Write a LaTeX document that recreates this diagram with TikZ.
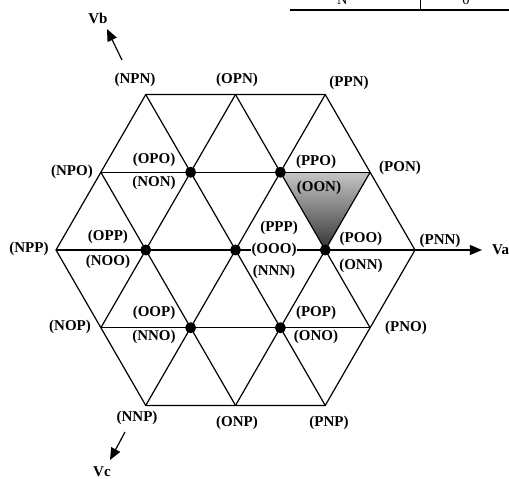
\documentclass[tikz,border=0pt]{standalone}
\usepackage{fontspec}
\setmainfont{Liberation Serif}
\usetikzlibrary{shapes,arrows.meta,positioning}

\begin{document}
\begin{tikzpicture}
	[x=89.75pt, y=89.75pt,
		gridline/.style={line width=1.2pt, line join=miter},
		vecdot/.style={circle, fill=black, inner sep=0pt, minimum size=11pt},
		statelabel/.style={inner sep=0pt, font=\bfseries\fontsize{15}{17}\selectfont},
		axisarrow/.style={line width=1.2pt, -{Triangle[length=12pt,width=10pt]}},
		tabletext/.style={inner sep=0pt, anchor=base, font=\fontsize{14.5}{16}\selectfont},
		shadedsector/.style={top color=gray!45, bottom color=black!80, draw=none},
	]
	\useasboundingbox (-2.624,-2.5515) rectangle (3.0474,2.7855);

	\coordinate (npn) at (-1,1.732);
	\coordinate (opn) at (0,1.732);
	\coordinate (ppn) at (1,1.732);
	\coordinate (npo) at (-1.5,0.866);
	\coordinate (opo) at (-0.5,0.866);
	\coordinate (ppo) at (0.5,0.866);
	\coordinate (pon) at (1.5,0.866);
	\coordinate (npp) at (-2,0);
	\coordinate (opp) at (-1,0);
	\coordinate (ooo) at (0,0);
	\coordinate (poo) at (1,0);
	\coordinate (pnn) at (2,0);
	\coordinate (nop) at (-1.5,-0.866);
	\coordinate (oop) at (-0.5,-0.866);
	\coordinate (pop) at (0.5,-0.866);
	\coordinate (pno) at (1.5,-0.866);
	\coordinate (nnp) at (-1,-1.732);
	\coordinate (onp) at (0,-1.732);
	\coordinate (pnp) at (1,-1.732);

	\fill[shadedsector] (ppo) -- (pon) -- (poo) -- cycle;

	\draw[gridline] (pnn) -- (ppn) -- (npn) -- (npp) -- (nnp) -- (pnp) -- cycle;
	\draw[gridline] (npo) -- (pon) (npp) -- (pnn) (nop) -- (pno);
	\draw[gridline] (nop) -- (opn) (nnp) -- (ppn) (onp) -- (pon);
	\draw[gridline] (pno) -- (opn) (pnp) -- (npn) (onp) -- (npo);

	\foreach \v in {opo,ppo,opp,ooo,poo,oop,pop}
		\node[vecdot] (dot\v) at (\v) {};

	\coordinate (vatip) at (2.746,0);
	\draw[axisarrow] (pnn) -- (vatip);
	\node[statelabel, right=10pt of vatip] (va) {Va};

	\coordinate (vbtail) at (-1.265,2.117);
	\coordinate (vbtip) at (-1.432,2.462);
	\draw[axisarrow] (vbtail) -- (vbtip);
	\node[statelabel] (vb) at (-1.532,2.585) {Vb};

	\coordinate (vctail) at (-1.231,-2.028);
	\coordinate (vctip) at (-1.398,-2.340);
	\draw[axisarrow] (vctail) -- (vctip);
	\node[statelabel] (vc) at (-1.488,-2.474) {Vc};

	\node[statelabel] (lnpn) at (-1.120,1.894) {(NPN)};
	\node[statelabel] (lopn) at (0.017,1.894) {(OPN)};
	\node[statelabel] (lppn) at (1.265,1.861) {(PPN)};
	\node[statelabel] (lnpo) at (-1.822,0.869) {(NPO)};
	\node[statelabel] (lopo) at (-0.908,1.003) {(OPO)};
	\node[statelabel] (lnon) at (-0.908,0.747) {(NON)};
	\node[statelabel] (lppo) at (0.897,0.981) {(PPO)};
	\node[statelabel] (loon) at (0.930,0.691) {(OON)};
	\node[statelabel] (lpon) at (1.833,0.914) {(PON)};
	\node[statelabel] (lppp) at (0.485,0.245) {(PPP)};
	\node[statelabel, fill=white, inner sep=1pt] (looo) at (0.429,0) {(OOO)};
	\node[statelabel] (lnnn) at (0.429,-0.245) {(NNN)};
	\node[statelabel] (lpoo) at (1.398,0.123) {(POO)};
	\node[statelabel] (lonn) at (1.398,-0.178) {(ONN)};
	\node[statelabel] (lpnn) at (2.279,0.100) {(PNN)};
	\node[statelabel] (lnpp) at (-2.301,0.011) {(NPP)};
	\node[statelabel] (lopp) at (-1.421,0.145) {(OPP)};
	\node[statelabel] (lnoo) at (-1.421,-0.134) {(NOO)};
	\node[statelabel] (loop) at (-0.908,-0.702) {(OOP)};
	\node[statelabel] (lnno) at (-0.908,-0.969) {(NNO)};
	\node[statelabel] (lnop) at (-1.844,-0.858) {(NOP)};
	\node[statelabel] (lpop) at (0.897,-0.702) {(POP)};
	\node[statelabel] (lono) at (0.897,-0.969) {(ONO)};
	\node[statelabel] (lpno) at (1.900,-0.869) {(PNO)};
	\node[statelabel] (lnnp) at (-1.097,-1.872) {(NNP)};
	\node[statelabel] (lonp) at (0.017,-1.928) {(ONP)};
	\node[statelabel] (lpnp) at (1.042,-1.928) {(PNP)};

	\coordinate (tableft) at (0.607,2.674);
	\coordinate (tabright) at (3.0474,2.674);
	\coordinate (tabtop) at (2.064,2.7855);
	\coordinate (tabmid) at (2.064,2.674);
	\draw[line width=1.3pt] (tableft) -- (tabright) (tabtop) -- (tabmid);
	\node[tabletext] (tabn) at (1.19,2.730) {N};
	\node[tabletext] (tabzero) at (2.568,2.730) {0};

\end{tikzpicture}
\end{document}
